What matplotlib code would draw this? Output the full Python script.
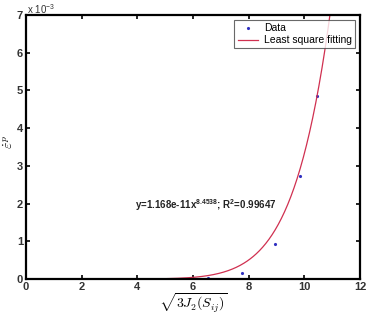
import numpy as np
import matplotlib
matplotlib.use("Agg")
import matplotlib.pyplot as plt

plt.rcParams['font.family'] = ['Liberation Sans', 'DejaVu Sans']
plt.rcParams['mathtext.fontset'] = 'custom'
plt.rcParams['mathtext.rm'] = 'Liberation Sans'
plt.rcParams['mathtext.it'] = 'Liberation Sans:italic'
plt.rcParams['mathtext.bf'] = 'Liberation Sans:bold'

# Data (strain in units of 1e-3)
data_x = [6.55, 7.77, 8.93, 9.84, 10.47]
data_y = [0.02, 0.17, 0.94, 2.72, 4.85]

# Fit parameters as printed on the chart
fit_a = 1.168e-11
fit_b = 8.4538
fit_r2 = 0.99647
fit_x = np.linspace(0, 11.2, 400)
fit_y = fit_a * fit_x ** fit_b * 1e3

xticks = [0, 2, 4, 6, 8, 10, 12]
yticks = [0, 1, 2, 3, 4, 5, 6, 7]

fig = plt.figure(figsize=(3.69, 3.16), dpi=100)
ax = fig.add_axes([0.0705, 0.117, 0.905, 0.836])

ax.plot(data_x, data_y, '.', color='#3030c0', markersize=2.5, label='Data')
ax.plot(fit_x, fit_y, '-', color='#d03050', linewidth=0.9, label='Least square fitting')

ax.set_xlim(0, 12)
ax.set_ylim(0, 7)
ax.set_xticks(xticks)
ax.set_yticks(yticks)
ax.tick_params(direction='in', length=3, width=1.2, top=True, right=True,
               labelsize=8, pad=2)
for lab in ax.get_xticklabels() + ax.get_yticklabels():
    lab.set_fontweight('bold')
    lab.set_color('#333333')
for sp in ax.spines.values():
    sp.set_linewidth(1.6)

fig.text(0.072, 1.0 - 2.0 / 316, r'x 10$^{-3}$', fontsize=7, color='#333333',
         ha='left', va='top')

xl = ax.set_xlabel(r'$\sqrt{3J_2(S_{ij})}$', fontsize=10, labelpad=0)
xl.set_math_fontfamily('cm')
yl = ax.set_ylabel(r'$\dot{\varepsilon}^p$', fontsize=10, labelpad=0)
yl.set_math_fontfamily('cm')
ax.yaxis.set_label_coords(-0.03, 0.52)

ax.text(6.45, 1.95, r'y=%.3fe-11x$^{\mathbf{%s}}$; R$^{\mathbf{2}}$=%s' % (fit_a * 1e11, fit_b, fit_r2),
        fontsize=7, fontweight='bold', color='#222222', ha='center', va='center')

leg = ax.legend(loc='upper right', fontsize=7.5, frameon=True, fancybox=False,
                edgecolor='#444444', borderpad=0.3, handlelength=2.0,
                handletextpad=0.5, labelspacing=0.2, borderaxespad=0.5)
leg.get_frame().set_linewidth(0.8)

fig.savefig('out.png', dpi=100)
